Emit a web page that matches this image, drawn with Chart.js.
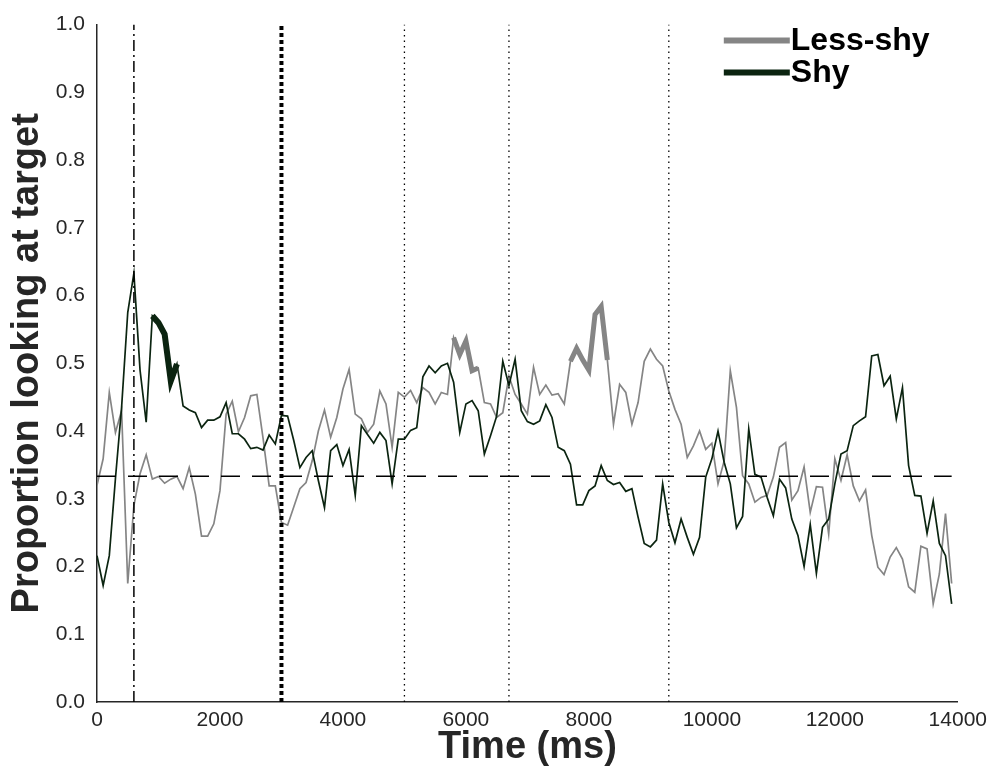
<!DOCTYPE html>
<html><head><meta charset="utf-8">
<script src="https://cdn.jsdelivr.net/npm/chart.js@4.4.0/dist/chart.umd.min.js"></script>
<style>html,body{margin:0;padding:0;background:#fff;}canvas{display:block;}</style>
</head><body>
<canvas id="c" width="993" height="772"></canvas>
<script>
const timeMs = [
0,100,200,300,400,500,600,700,800,900,
1000,1100,1200,1300,1400,1500,1600,1700,1800,1900,
2000,2100,2200,2300,2400,2500,2600,2700,2800,2900,
3000,3100,3200,3300,3400,3500,3600,3700,3800,3900,
4000,4100,4200,4300,4400,4500,4600,4700,4800,4900,
5000,5100,5200,5300,5400,5500,5600,5700,5800,5900,
6000,6100,6200,6300,6400,6500,6600,6700,6800,6900,
7000,7100,7200,7300,7400,7500,7600,7700,7800,7900,
8000,8100,8200,8300,8400,8500,8600,8700,8800,8900,
9000,9100,9200,9300,9400,9500,9600,9700,9800,9900,
10000,10100,10200,10300,10400,10500,10600,10700,10800,10900,
11000,11100,11200,11300,11400,11500,11600,11700,11800,11900,
12000,12100,12200,12300,12400,12500,12600,12700,12800,12900,
13000,13100,13200,13300,13400,13500,13600,13700,13800,13900];

const lessShy = [
0.32,0.359,0.457,0.398,0.43,0.175,0.29,0.337,0.365,0.329,
0.333,0.323,0.329,0.333,0.315,0.346,0.307,0.245,0.245,0.263,
0.312,0.425,0.444,0.399,0.42,0.452,0.454,0.39,0.319,0.319,
0.265,0.261,0.288,0.315,0.324,0.356,0.4,0.431,0.391,0.42,
0.462,0.491,0.425,0.418,0.398,0.41,0.459,0.44,0.376,0.457,
0.45,0.46,0.442,0.464,0.457,0.44,0.457,0.454,0.538,0.513,
0.533,0.489,0.493,0.442,0.44,0.42,0.427,0.481,0.454,0.44,
0.425,0.494,0.454,0.468,0.453,0.455,0.44,0.503,0.522,0.505,
0.49,0.572,0.584,0.505,0.41,0.469,0.457,0.41,0.442,0.503,
0.521,0.506,0.496,0.459,0.432,0.41,0.361,0.378,0.4,0.373,
0.382,0.322,0.356,0.489,0.435,0.334,0.322,0.295,0.302,0.305,
0.332,0.376,0.383,0.298,0.312,0.347,0.28,0.318,0.317,0.248,
0.359,0.327,0.365,0.319,0.297,0.313,0.246,0.199,0.188,0.214,
0.228,0.211,0.17,0.162,0.23,0.226,0.145,0.189,0.278,0.175];

const shy = [
0.216,0.172,0.216,0.33,0.435,0.575,0.633,0.49,0.413,0.57,
0.56,0.543,0.474,0.499,0.437,0.431,0.427,0.405,0.416,0.416,
0.421,0.442,0.396,0.396,0.388,0.374,0.376,0.372,0.394,0.381,
0.423,0.422,0.386,0.346,0.361,0.371,0.327,0.287,0.371,0.38,
0.349,0.373,0.305,0.408,0.395,0.382,0.398,0.386,0.322,0.388,
0.388,0.401,0.405,0.48,0.496,0.486,0.496,0.5,0.472,0.398,
0.44,0.445,0.43,0.366,0.393,0.422,0.503,0.467,0.506,0.43,
0.414,0.41,0.415,0.439,0.42,0.376,0.371,0.351,0.291,0.291,
0.312,0.319,0.349,0.327,0.321,0.324,0.311,0.315,0.273,0.234,
0.229,0.239,0.322,0.265,0.235,0.27,0.243,0.218,0.243,0.332,
0.359,0.4,0.354,0.322,0.257,0.274,0.403,0.336,0.332,0.302,
0.275,0.329,0.316,0.27,0.246,0.2,0.262,0.19,0.258,0.27,
0.322,0.366,0.371,0.408,0.415,0.421,0.511,0.513,0.467,0.481,
0.418,0.464,0.349,0.305,0.304,0.249,0.297,0.234,0.216,0.145];

const seriesNames = ['Less-shy', 'Shy'];
const shySignificantWindows = [[900, 1300]];
const lessShySignificantWindows = [[5800, 6200], [7700, 8300]];
const chanceLevel = 1 / 3;
const chanceSpanMs = [0, 13900];
const dashDotEventMs = [600];
const thickDottedEventMs = [3000];
const dottedEventMs = [5000, 6700, 9300];
const xTickValues = [0, 2000, 4000, 6000, 8000, 10000, 12000, 14000];
const yTickValues = [0.0, 0.1, 0.2, 0.3, 0.4, 0.5, 0.6, 0.7, 0.8, 0.9, 1.0];

const GRAY = '#858585';
const DARK = '#0b2410';
const AXIS = '#262626';
const FONT = '"Liberation Sans", Arial, Helvetica, sans-serif';

function pts(arr) { return timeMs.map((t, i) => ({x: t, y: arr[i]})); }
function sigPts(arr, windows) {
  return timeMs.map((t, i) => ({x: t, y: windows.some(w => t >= w[0] && t <= w[1]) ? arr[i] : null}));
}
function vline(t, style) {
  return Object.assign({data: [{x: t, y: 0}, {x: t, y: 1}], borderColor: '#000', pointRadius: 0, fill: false, tension: 0, label: '_ref'}, style);
}

const datasets = [];
dashDotEventMs.forEach(t => datasets.push(vline(t, {borderWidth: 1.5, borderDash: [11, 4, 2, 4]})));
thickDottedEventMs.forEach(t => datasets.push(vline(t, {borderWidth: 4, borderDash: [4, 3]})));
dottedEventMs.forEach(t => datasets.push(vline(t, {borderWidth: 1.3, borderDash: [1.5, 4]})));
datasets.push({label: '_chance', data: [{x: chanceSpanMs[0], y: chanceLevel}, {x: chanceSpanMs[1], y: chanceLevel}], borderColor: '#000', borderWidth: 1.5, borderDash: [19, 12], pointRadius: 0});
datasets.push({label: '_shySig', data: sigPts(shy, shySignificantWindows), borderColor: DARK, borderWidth: 6, pointRadius: 0, spanGaps: false, borderJoinStyle: 'miter'});
datasets.push({label: '_lessSig', data: sigPts(lessShy, lessShySignificantWindows), borderColor: GRAY, borderWidth: 5, pointRadius: 0, spanGaps: false, borderJoinStyle: 'miter'});
datasets.push({label: seriesNames[1], data: pts(shy), borderColor: DARK, borderWidth: 1.7, pointRadius: 0});
datasets.push({label: seriesNames[0], data: pts(lessShy), borderColor: GRAY, borderWidth: 1.7, pointRadius: 0});

const legendPlugin = {
  id: 'customLegend',
  afterDraw(chart) {
    const ctx = chart.ctx, ca = chart.chartArea;
    const items = [{name: seriesNames[0], color: GRAY}, {name: seriesNames[1], color: DARK}];
    const x0 = ca.right - 234, x1 = ca.right - 168;
    ctx.save();
    items.forEach((it, i) => {
      const y = ca.top + 16 + i * 32;
      ctx.strokeStyle = it.color; ctx.lineWidth = 6; ctx.setLineDash([]);
      ctx.beginPath(); ctx.moveTo(x0, y); ctx.lineTo(x1, y); ctx.stroke();
      ctx.fillStyle = '#000'; ctx.font = 'bold 32px ' + FONT; ctx.textBaseline = 'middle'; ctx.textAlign = 'left';
      ctx.fillText(it.name, x1 + 1, y + 1);
    });
    ctx.restore();
  }
};

new Chart(document.getElementById('c'), {
  type: 'line',
  data: {datasets},
  options: {
    responsive: false,
    animation: false,
    layout: {padding: {left: 0, top: 23, right: 35, bottom: 0}},
    plugins: {legend: {display: false}, tooltip: {enabled: false}},
    elements: {line: {tension: 0}},
    scales: {
      x: {
        type: 'linear', min: 0, max: 14000,
        afterBuildTicks: s => { s.ticks = xTickValues.map(v => ({value: v})); },
        afterFit: s => { s.height = 70; },
        grid: {display: true, drawOnChartArea: false, drawTicks: false},
        border: {display: true, color: AXIS, width: 1.5},
        ticks: {color: AXIS, font: {family: FONT, size: 21}, padding: 6, maxRotation: 0, callback: v => String(v)},
        title: {display: true, text: 'Time (ms)', color: AXIS, font: {family: FONT, size: 38, weight: 'bold'}, padding: {top: 0, bottom: 2}}
      },
      y: {
        min: 0, max: 1,
        afterBuildTicks: s => { s.ticks = yTickValues.map(v => ({value: v})); },
        afterFit: s => { s.width = 97; },
        grid: {display: true, drawOnChartArea: false, drawTicks: false},
        border: {display: true, color: AXIS, width: 1.5},
        ticks: {color: AXIS, font: {family: FONT, size: 21}, padding: 12, callback: v => Number(v).toFixed(1)},
        title: {display: true, text: 'Proportion looking at target', color: AXIS, font: {family: FONT, size: 38, weight: 'bold'}, padding: {top: 5, bottom: 0}}
      }
    }
  },
  plugins: [legendPlugin]
});
</script>
</body></html>
